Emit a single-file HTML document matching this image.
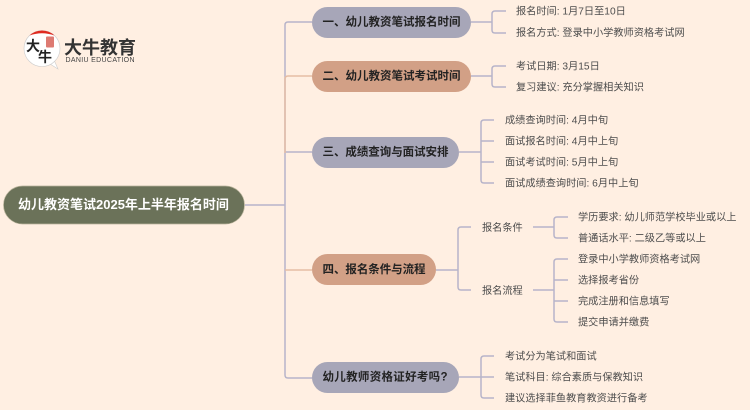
<!DOCTYPE html>
<html><head><meta charset="utf-8">
<style>
html,body{margin:0;padding:0;background:#ffefe2;}
svg{display:block;}
text{font-family:"Liberation Sans","Noto Sans CJK SC",sans-serif;dominant-baseline:central;}
.l{font-size:10.2px;fill:#4d4d4d;transform:translateY(1.2px);}
.b{font-size:11.5px;font-weight:bold;fill:#222;transform:translateY(.6px);}
path{fill:none;stroke-width:1.5;stroke:#b7b4c9;}
</style></head><body>
<svg width="750" height="410" viewBox="0 0 750 410" xmlns="http://www.w3.org/2000/svg">
<rect width="750" height="410" fill="#ffefe2"/>
<path d="M245 205H285"/>
<path d="M312 22H288Q285 22 285 25V375Q285 378 288 378H312"/>
<path d="M312 152H285"/>
<path d="M312 76H288Q285 76 285 79V153" style="stroke:#e5bda5"/>
<path d="M312 270H285" style="stroke:#e5bda5"/>
<path d="M471 22H492M506 11H495Q492 11 492 14V30Q492 33 495 33H506"/>
<path d="M471 76H492M506 66H495Q492 66 492 69V84Q492 87 495 87H506"/>
<path d="M459 152H481M494 120H484Q481 120 481 123V180Q481 183 484 183H494M481 141H494M481 162H494"/>
<path d="M436 270H458M471 227H461Q458 227 458 230V287Q458 290 461 290H471"/>
<path d="M533 227H554M568 217H557Q554 217 554 220V235Q554 238 557 238H568"/>
<path d="M533 290H554M568 259H557Q554 259 554 262V319Q554 322 557 322H568M554 280H568M554 301H568"/>
<path d="M459 377H494M494 356H484Q481 356 481 359V395Q481 398 484 398H494"/>
<rect x="3.500" y="186" width="241" height="38" rx="19" fill="#6b7259" stroke="#b9b39b" stroke-width=".7"/>
<text x="18" y="204.500" style="font-size:13px;font-weight:bold;fill:#fff">幼儿教资笔试2025年上半年报名时间</text>
<rect x="312" y="7" width="159" height="31" rx="15.500" fill="#a7a6b8"/>
<rect x="312" y="61" width="159" height="31" rx="15.500" fill="#d2a086"/>
<rect x="312" y="137" width="147" height="31" rx="15.500" fill="#a7a6b8"/>
<rect x="312" y="254" width="124" height="31" rx="15.500" fill="#d2a086"/>
<rect x="312" y="362" width="147" height="31" rx="15.500" fill="#a7a6b8"/>
<text class="b" x="322.500" y="22" textLength="138">一、幼儿教资笔试报名时间</text>
<text class="b" x="322.500" y="76" textLength="138">二、幼儿教资笔试考试时间</text>
<text class="b" x="322.500" y="152" textLength="126">三、成绩查询与面试安排</text>
<text class="b" x="322.500" y="269.500" textLength="103">四、报名条件与流程</text>
<text class="b" x="322.500" y="377" textLength="125">幼儿教师资格证好考吗?</text>
<text class="l" x="516" y="11">报名时间: 1月7日至10日</text>
<text class="l" x="516" y="32.500">报名方式: 登录中小学教师资格考试网</text>
<text class="l" x="516" y="66">考试日期: 3月15日</text>
<text class="l" x="516" y="87">复习建议: 充分掌握相关知识</text>
<text class="l" x="505" y="120">成绩查询时间: 4月中旬</text>
<text class="l" x="505" y="141">面试报名时间: 4月中上旬</text>
<text class="l" x="505" y="162">面试考试时间: 5月中上旬</text>
<text class="l" x="505" y="183">面试成绩查询时间: 6月中上旬</text>
<text class="l" x="482" y="227.500">报名条件</text>
<text class="l" x="482" y="290.500">报名流程</text>
<text class="l" x="578" y="217">学历要求: 幼儿师范学校毕业或以上</text>
<text class="l" x="578" y="238">普通话水平: 二级乙等或以上</text>
<text class="l" x="578" y="259">登录中小学教师资格考试网</text>
<text class="l" x="578" y="280">选择报考省份</text>
<text class="l" x="578" y="301">完成注册和信息填写</text>
<text class="l" x="578" y="322">提交申请并缴费</text>
<text class="l" x="505" y="356">考试分为笔试和面试</text>
<text class="l" x="505" y="377">笔试科目: 综合素质与保教知识</text>
<text class="l" x="505" y="398">建议选择菲鱼教育教资进行备考</text>
<g>
<path d="M50 64L58 69L54 60Z" style="fill:#fff;stroke:#ccc;stroke-width:.6"/>
<circle cx="42" cy="48.500" r="18" fill="#fff" stroke="#ccc" stroke-width=".6"/>
<path d="M29.500 35.500A18 18 0 0 1 54.500 35.500Q42 31 29.500 35.500Z" style="fill:#e02a20;stroke:none"/>
<rect x="46" y="36.500" width="8" height="11" rx="1" fill="#dd7a72"/>
<text x="26" y="46" style="font-size:14px;fill:#222;font-weight:bold">大</text>
<text x="38" y="57" style="font-size:14px;fill:#222;font-weight:bold">牛</text>
</g>
<text x="64" y="48" style="font-size:18px;font-weight:bold;fill:#333">大牛教育</text>
<text x="65.500" y="60.500" textLength="69" style="font-size:7px;fill:#444">DANIU EDUCATION</text>
</svg>
</body></html>
